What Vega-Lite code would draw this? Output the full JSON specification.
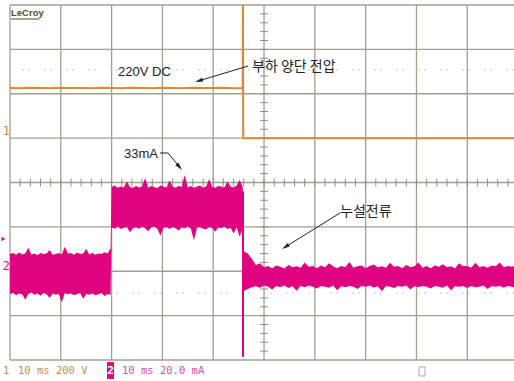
{
  "$schema": "https://vega.github.io/schema/vega-lite/v6.json",
  "width": 504,
  "height": 355,
  "autosize": "none",
  "padding": {"left": 10, "top": 5, "right": 0, "bottom": 21},
  "background": "white",
  "config": {"view": {"stroke": null}, "axis": {"disable": true}},
  "layer": [
    {
      "data": {"values": [0,1,2,3,4,5,6,7,8,9]},
      "mark": {"type": "rule", "color": "#a09f90", "strokeWidth": 1.3},
      "encoding": {"x": {"field": "data", "type": "quantitative", "scale": {"domain": [0, 9.92], "nice": false, "zero": false}}}
    },
    {
      "data": {"values": [-4,-3,-2,-1,0,1,2,3,4]},
      "mark": {"type": "rule", "color": "#a09f90", "strokeWidth": 1.3},
      "encoding": {"y": {"field": "data", "type": "quantitative", "scale": {"domain": [-4, 4], "nice": false, "zero": false}}}
    },
    {
      "data": {"values": [0.2,0.4,0.6,0.8,1,1.2,1.4,1.6,1.8,2,2.2,2.4,2.6,2.8,3,3.2,3.4,3.6,3.8,4,4.2,4.4,4.6,4.8,5,5.2,5.4,5.6,5.8,6,6.2,6.4,6.6,6.8,7,7.2,7.4,7.6,7.8,8,8.2,8.4,8.6,8.8,9,9.2,9.4,9.6,9.8]},
      "mark": {"type": "rule", "color": "#8f8e80", "strokeWidth": 1},
      "encoding": {"x": {"field": "data", "type": "quantitative"}, "y": {"datum": -0.09}, "y2": {"datum": 0.09}}
    },
    {
      "data": {"values": [-3.8,-3.6,-3.4,-3.2,-3,-2.8,-2.6,-2.4,-2.2,-2,-1.8,-1.6,-1.4,-1.2,-1,-0.8,-0.6,-0.4,-0.2,0,0.2,0.4,0.6,0.8,1,1.2,1.4,1.6,1.8,2,2.2,2.4,2.6,2.8,3,3.2,3.4,3.6,3.8]},
      "mark": {"type": "rule", "color": "#8f8e80", "strokeWidth": 1},
      "encoding": {"y": {"field": "data", "type": "quantitative"}, "x": {"datum": 4.92}, "x2": {"datum": 5.08}}
    },
    {
      "data": {"values": [2.535, -2.49]},
      "mark": {"type": "rule", "color": "#c4c4bc", "strokeWidth": 1, "strokeDash": [2, 4, 2, 14]},
      "encoding": {"y": {"field": "data", "type": "quantitative"}}
    },
    {
      "data": {"values": [
        {"t": 0, "v": 2.13}, {"t": 0.2, "v": 2.125}, {"t": 0.4, "v": 2.135}, {"t": 0.6, "v": 2.13},
        {"t": 0.8, "v": 2.125}, {"t": 1.0, "v": 2.135}, {"t": 1.2, "v": 2.13}, {"t": 1.4, "v": 2.13},
        {"t": 1.6, "v": 2.125}, {"t": 1.8, "v": 2.135}, {"t": 2.0, "v": 2.13}, {"t": 2.2, "v": 2.125},
        {"t": 2.4, "v": 2.135}, {"t": 2.6, "v": 2.13}, {"t": 2.8, "v": 2.125}, {"t": 3.0, "v": 2.135},
        {"t": 3.2, "v": 2.13}, {"t": 3.4, "v": 2.125}, {"t": 3.6, "v": 2.135}, {"t": 3.8, "v": 2.13},
        {"t": 4.0, "v": 2.13}, {"t": 4.2, "v": 2.135}, {"t": 4.4, "v": 2.125}, {"t": 4.58, "v": 2.13},
        {"t": 4.585, "v": 4.0}, {"t": 4.59, "v": 1.0}, {"t": 9.92, "v": 1.0}
      ]},
      "mark": {"type": "line", "color": "#d98a34", "strokeWidth": 2},
      "encoding": {"x": {"field": "t", "type": "quantitative"}, "y": {"field": "v", "type": "quantitative"}}
    },
    {
      "data": {"values": [
        {"t": 0.00, "hi": -1.61, "lo": -2.51}, {"t": 0.06, "hi": -1.59, "lo": -2.49}, {"t": 0.12, "hi": -1.63, "lo": -2.54},
        {"t": 0.18, "hi": -1.58, "lo": -2.50}, {"t": 0.24, "hi": -1.62, "lo": -2.52}, {"t": 0.30, "hi": -1.60, "lo": -2.64},
        {"t": 0.36, "hi": -1.47, "lo": -2.51}, {"t": 0.42, "hi": -1.62, "lo": -2.48}, {"t": 0.48, "hi": -1.60, "lo": -2.53},
        {"t": 0.54, "hi": -1.64, "lo": -2.50}, {"t": 0.60, "hi": -1.59, "lo": -2.55}, {"t": 0.66, "hi": -1.61, "lo": -2.49},
        {"t": 0.72, "hi": -1.60, "lo": -2.52}, {"t": 0.78, "hi": -1.52, "lo": -2.60}, {"t": 0.84, "hi": -1.63, "lo": -2.50},
        {"t": 0.90, "hi": -1.61, "lo": -2.53}, {"t": 0.96, "hi": -1.59, "lo": -2.51}, {"t": 1.02, "hi": -1.62, "lo": -2.70},
        {"t": 1.08, "hi": -1.45, "lo": -2.49}, {"t": 1.14, "hi": -1.60, "lo": -2.52}, {"t": 1.20, "hi": -1.59, "lo": -2.50},
        {"t": 1.26, "hi": -1.63, "lo": -2.54}, {"t": 1.32, "hi": -1.58, "lo": -2.51}, {"t": 1.38, "hi": -1.61, "lo": -2.49},
        {"t": 1.44, "hi": -1.60, "lo": -2.62}, {"t": 1.50, "hi": -1.50, "lo": -2.51}, {"t": 1.56, "hi": -1.62, "lo": -2.53},
        {"t": 1.62, "hi": -1.59, "lo": -2.50}, {"t": 1.68, "hi": -1.63, "lo": -2.54}, {"t": 1.74, "hi": -1.60, "lo": -2.52},
        {"t": 1.80, "hi": -1.61, "lo": -2.49}, {"t": 1.86, "hi": -1.57, "lo": -2.56}, {"t": 1.92, "hi": -1.60, "lo": -2.51},
        {"t": 1.98, "hi": -1.48, "lo": -2.53},
        {"t": 2.00, "hi": -0.10, "lo": -1.01}, {"t": 2.06, "hi": -0.07, "lo": -1.04}, {"t": 2.12, "hi": -0.12, "lo": -0.99},
        {"t": 2.18, "hi": -0.09, "lo": -1.05}, {"t": 2.24, "hi": -0.11, "lo": -1.02}, {"t": 2.30, "hi": 0.02, "lo": -1.00},
        {"t": 2.36, "hi": -0.10, "lo": -1.12}, {"t": 2.42, "hi": -0.12, "lo": -1.03}, {"t": 2.48, "hi": -0.08, "lo": -1.01},
        {"t": 2.54, "hi": -0.11, "lo": -1.04}, {"t": 2.60, "hi": -0.09, "lo": -0.99}, {"t": 2.66, "hi": 0.10, "lo": -1.03},
        {"t": 2.72, "hi": -0.12, "lo": -1.10}, {"t": 2.78, "hi": -0.08, "lo": -1.01}, {"t": 2.84, "hi": -0.10, "lo": -0.99},
        {"t": 2.90, "hi": -0.13, "lo": -1.04}, {"t": 2.96, "hi": -0.07, "lo": -1.20}, {"t": 3.02, "hi": -0.09, "lo": -1.02},
        {"t": 3.08, "hi": -0.11, "lo": -1.00}, {"t": 3.14, "hi": 0.05, "lo": -1.05}, {"t": 3.20, "hi": -0.09, "lo": -1.00},
        {"t": 3.26, "hi": -0.12, "lo": -1.03}, {"t": 3.32, "hi": -0.08, "lo": -1.08}, {"t": 3.38, "hi": -0.10, "lo": -1.01},
        {"t": 3.44, "hi": 0.17, "lo": -1.03}, {"t": 3.50, "hi": -0.11, "lo": -0.99}, {"t": 3.56, "hi": -0.08, "lo": -1.04},
        {"t": 3.62, "hi": -0.12, "lo": -1.30}, {"t": 3.68, "hi": -0.09, "lo": -1.02}, {"t": 3.74, "hi": -0.07, "lo": -1.00},
        {"t": 3.80, "hi": -0.11, "lo": -1.04}, {"t": 3.86, "hi": -0.09, "lo": -1.06}, {"t": 3.92, "hi": 0.08, "lo": -1.00},
        {"t": 3.98, "hi": -0.10, "lo": -1.03}, {"t": 4.04, "hi": -0.12, "lo": -1.11}, {"t": 4.10, "hi": -0.08, "lo": -1.01},
        {"t": 4.16, "hi": -0.09, "lo": -1.03}, {"t": 4.22, "hi": -0.11, "lo": -0.99}, {"t": 4.28, "hi": 0.03, "lo": -1.05},
        {"t": 4.34, "hi": -0.09, "lo": -1.02}, {"t": 4.40, "hi": -0.11, "lo": -1.15}, {"t": 4.46, "hi": -0.07, "lo": -1.01},
        {"t": 4.52, "hi": 0.06, "lo": -1.22}, {"t": 4.58, "hi": -0.10, "lo": -1.03},
        {"t": 4.60, "hi": -1.55, "lo": -2.45}, {"t": 4.68, "hi": -1.60, "lo": -2.40}, {"t": 4.76, "hi": -1.72, "lo": -2.36},
        {"t": 4.84, "hi": -1.86, "lo": -2.34}, {"t": 4.92, "hi": -1.82, "lo": -2.37}, {"t": 5.00, "hi": -1.91, "lo": -2.32},
        {"t": 5.08, "hi": -1.88, "lo": -2.35}, {"t": 5.16, "hi": -1.93, "lo": -2.41}, {"t": 5.24, "hi": -1.87, "lo": -2.33},
        {"t": 5.32, "hi": -1.90, "lo": -2.36}, {"t": 5.40, "hi": -1.94, "lo": -2.32}, {"t": 5.48, "hi": -1.86, "lo": -2.38},
        {"t": 5.56, "hi": -1.91, "lo": -2.34}, {"t": 5.64, "hi": -1.89, "lo": -2.44}, {"t": 5.72, "hi": -1.92, "lo": -2.33},
        {"t": 5.80, "hi": -1.80, "lo": -2.36}, {"t": 5.88, "hi": -1.90, "lo": -2.32}, {"t": 5.96, "hi": -1.88, "lo": -2.35},
        {"t": 6.04, "hi": -1.93, "lo": -2.39}, {"t": 6.12, "hi": -1.87, "lo": -2.33}, {"t": 6.20, "hi": -1.91, "lo": -2.35},
        {"t": 6.28, "hi": -1.82, "lo": -2.37}, {"t": 6.36, "hi": -1.89, "lo": -2.32}, {"t": 6.44, "hi": -1.93, "lo": -2.43},
        {"t": 6.52, "hi": -1.88, "lo": -2.34}, {"t": 6.60, "hi": -1.91, "lo": -2.36}, {"t": 6.68, "hi": -1.79, "lo": -2.33},
        {"t": 6.76, "hi": -1.92, "lo": -2.35}, {"t": 6.84, "hi": -1.89, "lo": -2.40}, {"t": 6.92, "hi": -1.87, "lo": -2.33},
        {"t": 7.00, "hi": -1.93, "lo": -2.35}, {"t": 7.08, "hi": -1.88, "lo": -2.32}, {"t": 7.16, "hi": -1.85, "lo": -2.37},
        {"t": 7.24, "hi": -1.91, "lo": -2.34}, {"t": 7.32, "hi": -1.89, "lo": -2.45}, {"t": 7.40, "hi": -1.92, "lo": -2.33},
        {"t": 7.48, "hi": -1.81, "lo": -2.35}, {"t": 7.56, "hi": -1.90, "lo": -2.38}, {"t": 7.64, "hi": -1.88, "lo": -2.33},
        {"t": 7.72, "hi": -1.93, "lo": -2.35}, {"t": 7.80, "hi": -1.86, "lo": -2.32}, {"t": 7.88, "hi": -1.91, "lo": -2.41},
        {"t": 7.96, "hi": -1.89, "lo": -2.34}, {"t": 8.04, "hi": -1.80, "lo": -2.36}, {"t": 8.12, "hi": -1.92, "lo": -2.33},
        {"t": 8.20, "hi": -1.88, "lo": -2.35}, {"t": 8.28, "hi": -1.93, "lo": -2.39}, {"t": 8.36, "hi": -1.87, "lo": -2.33},
        {"t": 8.44, "hi": -1.90, "lo": -2.35}, {"t": 8.52, "hi": -1.84, "lo": -2.37}, {"t": 8.60, "hi": -1.91, "lo": -2.32},
        {"t": 8.68, "hi": -1.89, "lo": -2.43}, {"t": 8.76, "hi": -1.93, "lo": -2.34}, {"t": 8.84, "hi": -1.82, "lo": -2.35},
        {"t": 8.92, "hi": -1.89, "lo": -2.33}, {"t": 9.00, "hi": -1.88, "lo": -2.38}, {"t": 9.08, "hi": -1.92, "lo": -2.33},
        {"t": 9.16, "hi": -1.81, "lo": -2.36}, {"t": 9.24, "hi": -1.91, "lo": -2.35}, {"t": 9.32, "hi": -1.88, "lo": -2.32},
        {"t": 9.40, "hi": -1.92, "lo": -2.40}, {"t": 9.48, "hi": -1.87, "lo": -2.34}, {"t": 9.56, "hi": -1.89, "lo": -2.35},
        {"t": 9.64, "hi": -1.80, "lo": -2.33}, {"t": 9.72, "hi": -1.91, "lo": -2.37}, {"t": 9.80, "hi": -1.88, "lo": -2.33},
        {"t": 9.88, "hi": -1.90, "lo": -2.35}, {"t": 9.96, "hi": -1.86, "lo": -2.38}
      ]},
      "mark": {"type": "area", "color": "#e0037f", "opacity": 1, "clip": true},
      "encoding": {
        "x": {"field": "t", "type": "quantitative"},
        "y": {"field": "hi", "type": "quantitative"},
        "y2": {"field": "lo"}
      }
    },
    {
      "data": {"values": [{"t": 4.586, "top": -0.2, "bottom": -3.93}]},
      "mark": {"type": "rule", "color": "#e0037f", "strokeWidth": 2},
      "encoding": {"x": {"field": "t", "type": "quantitative"}, "y": {"field": "top", "type": "quantitative"}, "y2": {"field": "bottom"}}
    },
    {
      "data": {"values": [
        {"a": "1", "o": 1, "x": 4.685, "y": 2.625}, {"a": "1", "o": 2, "x": 3.689, "y": 2.281},
        {"a": "2", "o": 1, "x": 2.953, "y": 0.665}, {"a": "2", "o": 2, "x": 3.110, "y": 0.665}, {"a": "2", "o": 3, "x": 3.354, "y": 0.325},
        {"a": "3", "o": 1, "x": 6.496, "y": -0.687}, {"a": "3", "o": 2, "x": 5.396, "y": -1.469}
      ]},
      "mark": {"type": "line", "color": "#222222", "strokeWidth": 1},
      "encoding": {
        "x": {"field": "x", "type": "quantitative"},
        "y": {"field": "y", "type": "quantitative"},
        "detail": {"field": "a"},
        "order": {"field": "o"}
      }
    },
    {
      "data": {"values": [{"x": 3.689, "y": 2.281}]},
      "mark": {"type": "point", "shape": "M0,-0.5L0.4,1.1L-0.4,1.1Z", "filled": true, "color": "#222222", "opacity": 1, "size": 100, "angle": 253},
      "encoding": {"x": {"field": "x", "type": "quantitative"}, "y": {"field": "y", "type": "quantitative"}}
    },
    {
      "data": {"values": [{"x": 3.354, "y": 0.325}]},
      "mark": {"type": "point", "shape": "M0,-0.5L0.4,1.1L-0.4,1.1Z", "filled": true, "color": "#222222", "opacity": 1, "size": 100, "angle": 140},
      "encoding": {"x": {"field": "x", "type": "quantitative"}, "y": {"field": "y", "type": "quantitative"}}
    },
    {
      "data": {"values": [{"x": 5.396, "y": -1.469}]},
      "mark": {"type": "point", "shape": "M0,-0.5L0.4,1.1L-0.4,1.1Z", "filled": true, "color": "#222222", "opacity": 1, "size": 100, "angle": 238},
      "encoding": {"x": {"field": "x", "type": "quantitative"}, "y": {"field": "y", "type": "quantitative"}}
    },
    {
      "data": {"values": [
        {"x": 2.126, "y": 2.49, "label": "220V DC"},
        {"x": 2.244, "y": 0.631, "label": "33mA"}
      ]},
      "mark": {"type": "text", "align": "left", "baseline": "middle", "font": "Liberation Sans", "fontSize": 13, "color": "#222222"},
      "encoding": {"x": {"field": "x", "type": "quantitative"}, "y": {"field": "y", "type": "quantitative"}, "text": {"field": "label"}}
    },
    {
      "data": {"values": [
        {"x": 4.764, "y": 2.614, "label": "부하 양단 전압"},
        {"x": 6.496, "y": -0.665, "label": "누설전류"}
      ]},
      "mark": {"type": "text", "align": "left", "baseline": "middle", "font": "Noto Sans CJK KR", "fontSize": 14, "color": "#222222"},
      "encoding": {"x": {"field": "x", "type": "quantitative"}, "y": {"field": "y", "type": "quantitative"}, "text": {"field": "label"}}
    },
    {
      "data": {"values": [{"x": 0.02, "y": 3.81, "label": "LeCroy"}]},
      "mark": {"type": "text", "align": "left", "baseline": "middle", "font": "Liberation Sans", "fontWeight": "bold", "fontSize": 9.5, "color": "#5b4a1e"},
      "encoding": {"x": {"field": "x", "type": "quantitative"}, "y": {"field": "y", "type": "quantitative"}, "text": {"field": "label"}}
    },
    {
      "data": {"values": [{"x": 0.02, "x2": 0.58, "y": 3.685}]},
      "mark": {"type": "rule", "color": "#5b4a1e", "strokeWidth": 1},
      "encoding": {"x": {"field": "x", "type": "quantitative"}, "x2": {"field": "x2"}, "y": {"field": "y", "type": "quantitative"}}
    },
    {
      "data": {"values": [
        {"x": -0.138, "y": -4.248, "label": "1"},
        {"x": 0.157, "y": -4.248, "label": "10 ms 200 V"}
      ]},
      "mark": {"type": "text", "align": "left", "baseline": "middle", "font": "DejaVu Sans Mono", "fontSize": 10.5, "color": "#c98a4a"},
      "encoding": {"x": {"field": "x", "type": "quantitative"}, "y": {"field": "y", "type": "quantitative"}, "text": {"field": "label"}}
    },
    {
      "data": {"values": [{"x": -0.15, "y": 1.16, "label": "1"}]},
      "mark": {"type": "text", "align": "left", "baseline": "middle", "font": "DejaVu Sans Mono", "fontSize": 12.5, "color": "#d08a3c"},
      "encoding": {"x": {"field": "x", "type": "quantitative"}, "y": {"field": "y", "type": "quantitative"}, "text": {"field": "label"}}
    },
    {
      "data": {"values": [{"x": -0.15, "y": -1.88, "label": "2"}]},
      "mark": {"type": "text", "align": "left", "baseline": "middle", "font": "DejaVu Sans Mono", "fontSize": 12.5, "color": "#d8107f"},
      "encoding": {"x": {"field": "x", "type": "quantitative"}, "y": {"field": "y", "type": "quantitative"}, "text": {"field": "label"}}
    },
    {
      "data": {"values": [{"x": 1.909, "x2": 2.047, "y": -4.045, "y2": -4.428}]},
      "mark": {"type": "rect", "color": "#d8107f"},
      "encoding": {"x": {"field": "x", "type": "quantitative"}, "x2": {"field": "x2"}, "y": {"field": "y", "type": "quantitative"}, "y2": {"field": "y2"}}
    },
    {
      "data": {"values": [{"x": 1.978, "y": -4.24, "label": "2"}]},
      "mark": {"type": "text", "align": "center", "baseline": "middle", "font": "DejaVu Sans Mono", "fontWeight": "bold", "fontSize": 11, "color": "white"},
      "encoding": {"x": {"field": "x", "type": "quantitative"}, "y": {"field": "y", "type": "quantitative"}, "text": {"field": "label"}}
    },
    {
      "data": {"values": [{"x": 2.205, "y": -4.248, "label": "10 ms 20.0 mA"}]},
      "mark": {"type": "text", "align": "left", "baseline": "middle", "font": "DejaVu Sans Mono", "fontSize": 10.5, "color": "#d4509a"},
      "encoding": {"x": {"field": "x", "type": "quantitative"}, "y": {"field": "y", "type": "quantitative"}, "text": {"field": "label"}}
    },
    {
      "data": {"values": [{"x": -0.13, "y": -1.273}]},
      "mark": {"type": "point", "shape": "triangle-right", "filled": true, "color": "#d8107f", "opacity": 1, "size": 22},
      "encoding": {"x": {"field": "x", "type": "quantitative"}, "y": {"field": "y", "type": "quantitative"}}
    },
    {
      "data": {"values": [{"x": 8.051, "x2": 8.169, "y": -4.158, "y2": -4.36}]},
      "mark": {"type": "rect", "fill": null, "stroke": "#aaaaaa", "strokeWidth": 1},
      "encoding": {"x": {"field": "x", "type": "quantitative"}, "x2": {"field": "x2"}, "y": {"field": "y", "type": "quantitative"}, "y2": {"field": "y2"}}
    }
  ]
}
